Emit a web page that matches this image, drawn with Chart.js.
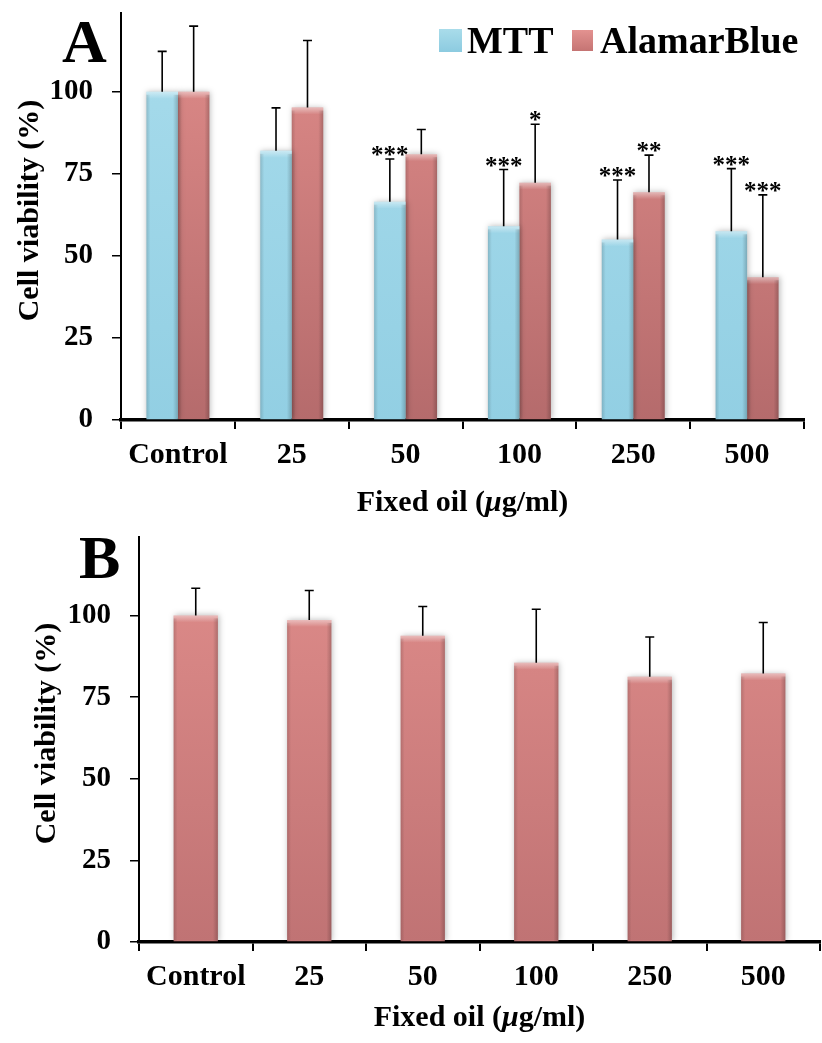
<!DOCTYPE html>
<html>
<head>
<meta charset="utf-8">
<script src="https://cdn.jsdelivr.net/npm/chart.js@4.4.0/dist/chart.umd.min.js"></script>
<style>
  body { margin: 0; background: #fff; }
  #wrapA { position: absolute; left: 0; top: 0; width: 822px; height: 520px; }
  #wrapB { position: absolute; left: 0; top: 520px; width: 822px; height: 523px; }
</style>
</head>
<body>
<div id="wrapA"><canvas id="chartA" width="822" height="520"></canvas></div>
<div id="wrapB"><canvas id="chartB" width="822" height="523"></canvas></div>
<script>
const categories = ['Control', '25', '50', '100', '250', '500'];
const yTicks = [0, 25, 50, 75, 100];

// panel A
const mttValues = [100, 82, 66.5, 59, 55, 57.5];
const mttErrors = [12.3, 13.1, 13, 17.3, 18.1, 19.1];
const mttStars = ['', '', '***', '***', '***', '***'];
const alamarValues = [100, 95.2, 81, 72.3, 69.4, 43.5];
const alamarErrors = [20, 20.4, 7.5, 17.8, 11.3, 25.1];
const alamarStars = ['', '', '', '*', '**', '***'];

// panel B
const fixedOilValues = [100, 98.6, 93.8, 85.5, 81.2, 82.2];
const fixedOilErrors = [8.3, 9, 8.9, 16.4, 12.2, 15.6];

const SERIF = '"Liberation Serif", "Times New Roman", serif';

function vGrad(top, bottom) {
    return (ctx) => {
        const area = ctx.chart.chartArea;
        if (!area) return bottom;
        const g = ctx.chart.ctx.createLinearGradient(0, area.top, 0, area.bottom);
        g.addColorStop(0, top);
        g.addColorStop(1, bottom);
        return g;
    };
}

// shadow, bevel, error bars and stars
const barExtras = {
    id: 'barExtras',
    beforeDatasetsDraw(chart) {
        const c = chart.ctx;
        c.save();
        c.shadowColor = 'rgba(0,0,0,0.28)';
        c.shadowBlur = 6;
        c.shadowOffsetX = 1;
    },
    afterDatasetsDraw(chart) {
        const c = chart.ctx;
        c.restore();
        const y = chart.scales.y;
        chart.data.datasets.forEach((ds, i) => {
            const meta = chart.getDatasetMeta(i);
            meta.data.forEach((bar, j) => {
                const left = bar.x - bar.width / 2;
                const right = bar.x + bar.width / 2;
                // top highlight
                let g = c.createLinearGradient(0, bar.y, 0, bar.y + 7);
                g.addColorStop(0, 'rgba(255,255,255,0.45)');
                g.addColorStop(1, 'rgba(255,255,255,0)');
                c.fillStyle = g;
                c.fillRect(left, bar.y, bar.width, 7);
                // side shading
                g = c.createLinearGradient(left, 0, left + 4, 0);
                g.addColorStop(0, 'rgba(0,0,0,0.14)');
                g.addColorStop(1, 'rgba(0,0,0,0)');
                c.fillStyle = g;
                c.fillRect(left, bar.y + 3, 4, bar.base - bar.y - 3);
                g = c.createLinearGradient(right - 5, 0, right, 0);
                g.addColorStop(0, 'rgba(0,0,0,0)');
                g.addColorStop(1, 'rgba(0,0,0,0.2)');
                c.fillStyle = g;
                c.fillRect(right - 5, bar.y + 3, 5, bar.base - bar.y - 3);

                // error bar (upper part)
                const v = ds.data[j];
                const top = y.getPixelForValue(v + ds.errors[j]);
                c.strokeStyle = '#000';
                c.lineWidth = 1.6;
                c.beginPath();
                c.moveTo(bar.x, bar.y);
                c.lineTo(bar.x, top);
                c.moveTo(bar.x - 4.5, top);
                c.lineTo(bar.x + 4.5, top);
                c.stroke();

                if (ds.stars && ds.stars[j]) {
                    c.fillStyle = '#000';
                    c.font = 'bold 25px ' + SERIF;
                    c.textAlign = 'center';
                    c.textBaseline = 'alphabetic';
                    c.fillText(ds.stars[j], bar.x, top + 4);
                }
            });
        });
    }
};

function labelsPlugin(letter, letterPos, yTitleX, xTitleY) {
    return {
        id: 'labels' + letter,
        afterDraw(chart) {
            const c = chart.ctx;
            const area = chart.chartArea;
            c.save();
            c.fillStyle = '#000';
            c.font = 'bold 62px ' + SERIF;
            c.textAlign = 'left';
            c.textBaseline = 'alphabetic';
            c.fillText(letter, letterPos[0], letterPos[1]);

            c.font = 'bold 30px ' + SERIF;
            c.save();
            c.translate(yTitleX, (area.top + area.bottom) / 2 - 6);
            c.rotate(-Math.PI / 2);
            c.textAlign = 'center';
            c.fillText('Cell viability (%)', 0, 0);
            c.restore();

            // x title with italic mu
            const parts = [
                ['Fixed oil (', 'bold 30px ' + SERIF],
                ['\u03bc', 'italic bold 30px ' + SERIF],
                ['g/ml)', 'bold 30px ' + SERIF]
            ];
            let total = 0;
            parts.forEach(p => { c.font = p[1]; total += c.measureText(p[0]).width; });
            let x = (area.left + area.right) / 2 - total / 2;
            c.textAlign = 'left';
            parts.forEach(p => {
                c.font = p[1];
                c.fillText(p[0], x, xTitleY);
                x += c.measureText(p[0]).width;
            });
            c.restore();
        }
    };
}

const legendA = {
    id: 'legendA',
    afterDraw(chart) {
        const c = chart.ctx;
        c.save();
        let g = c.createLinearGradient(0, 29, 0, 52);
        g.addColorStop(0, '#a9dcea');
        g.addColorStop(1, '#8ccbe0');
        c.fillStyle = g;
        c.fillRect(439, 29, 23, 23);
        g = c.createLinearGradient(0, 30, 0, 51);
        g.addColorStop(0, '#e39290');
        g.addColorStop(1, '#c57473');
        c.fillStyle = g;
        c.fillRect(572, 30, 21, 21);
        c.fillStyle = '#000';
        c.font = 'bold 38px ' + SERIF;
        c.textAlign = 'left';
        c.textBaseline = 'alphabetic';
        c.fillText('MTT', 467, 53);
        c.fillText('AlamarBlue', 600, 53);
        c.restore();
    }
};

function makeOptions(yWidth, xHeight, pad) {
    return {
        responsive: false,
        animation: false,
        layout: { padding: pad },
        plugins: { legend: { display: false }, tooltip: { enabled: false } },
        scales: {
            x: {
                z: 1,
                grid: { drawOnChartArea: false, drawTicks: true, tickLength: 9, offset: true, color: '#000', lineWidth: 2 },
                border: { display: true, color: '#000', width: 3.5 },
                ticks: { color: '#000', padding: 8, maxRotation: 0, font: { family: SERIF, size: 30, weight: 'bold' } },
                afterFit(scale) {
                    scale.height = xHeight;
                    scale.paddingLeft = 0;
                    scale.paddingRight = 0;
                }
            },
            y: {
                min: 0,
                max: 124,
                grid: { drawOnChartArea: false, drawTicks: true, tickLength: 9, color: '#000', lineWidth: 1.5 },
                border: { display: true, color: '#000', width: 2 },
                ticks: { color: '#000', padding: 19, font: { family: SERIF, size: 29, weight: 'bold' } },
                afterBuildTicks(scale) { scale.ticks = yTicks.map(v => ({ value: v })); },
                afterFit(scale) {
                    scale.width = yWidth;
                    scale.paddingTop = 0;
                    scale.paddingBottom = 0;
                }
            }
        }
    };
}

const configChartA = {
    type: 'bar',
    data: {
        labels: categories,
        datasets: [
            {
                label: 'MTT',
                data: mttValues,
                errors: mttErrors,
                stars: mttStars,
                backgroundColor: vGrad('#a8dcec', '#92cfe3'),
                categoryPercentage: 0.553,
                barPercentage: 1.0
            },
            {
                label: 'AlamarBlue',
                data: alamarValues,
                errors: alamarErrors,
                stars: alamarStars,
                backgroundColor: vGrad('#e08c8a', '#b56b6c'),
                categoryPercentage: 0.553,
                barPercentage: 1.0
            }
        ]
    },
    options: makeOptions(121, 100, { left: 0, right: 18, top: 13, bottom: 0 }),
    plugins: [barExtras, labelsPlugin('A', [62, 62], 38, 511), legendA]
};

const configChartB = {
    type: 'bar',
    data: {
        labels: categories,
        datasets: [
            {
                label: 'Fixed oil',
                data: fixedOilValues,
                errors: fixedOilErrors,
                backgroundColor: vGrad('#e08d8b', '#c07374'),
                categoryPercentage: 0.39,
                barPercentage: 1.0
            }
        ]
    },
    options: makeOptions(139, 101, { left: 0, right: 2, top: 17, bottom: 0 }),
    plugins: [barExtras, labelsPlugin('B', [79, 58], 55, 506)]
};

let oChartA = new Chart(document.getElementById('chartA'), configChartA);
let oChartB = new Chart(document.getElementById('chartB'), configChartB);
</script>
</body>
</html>
